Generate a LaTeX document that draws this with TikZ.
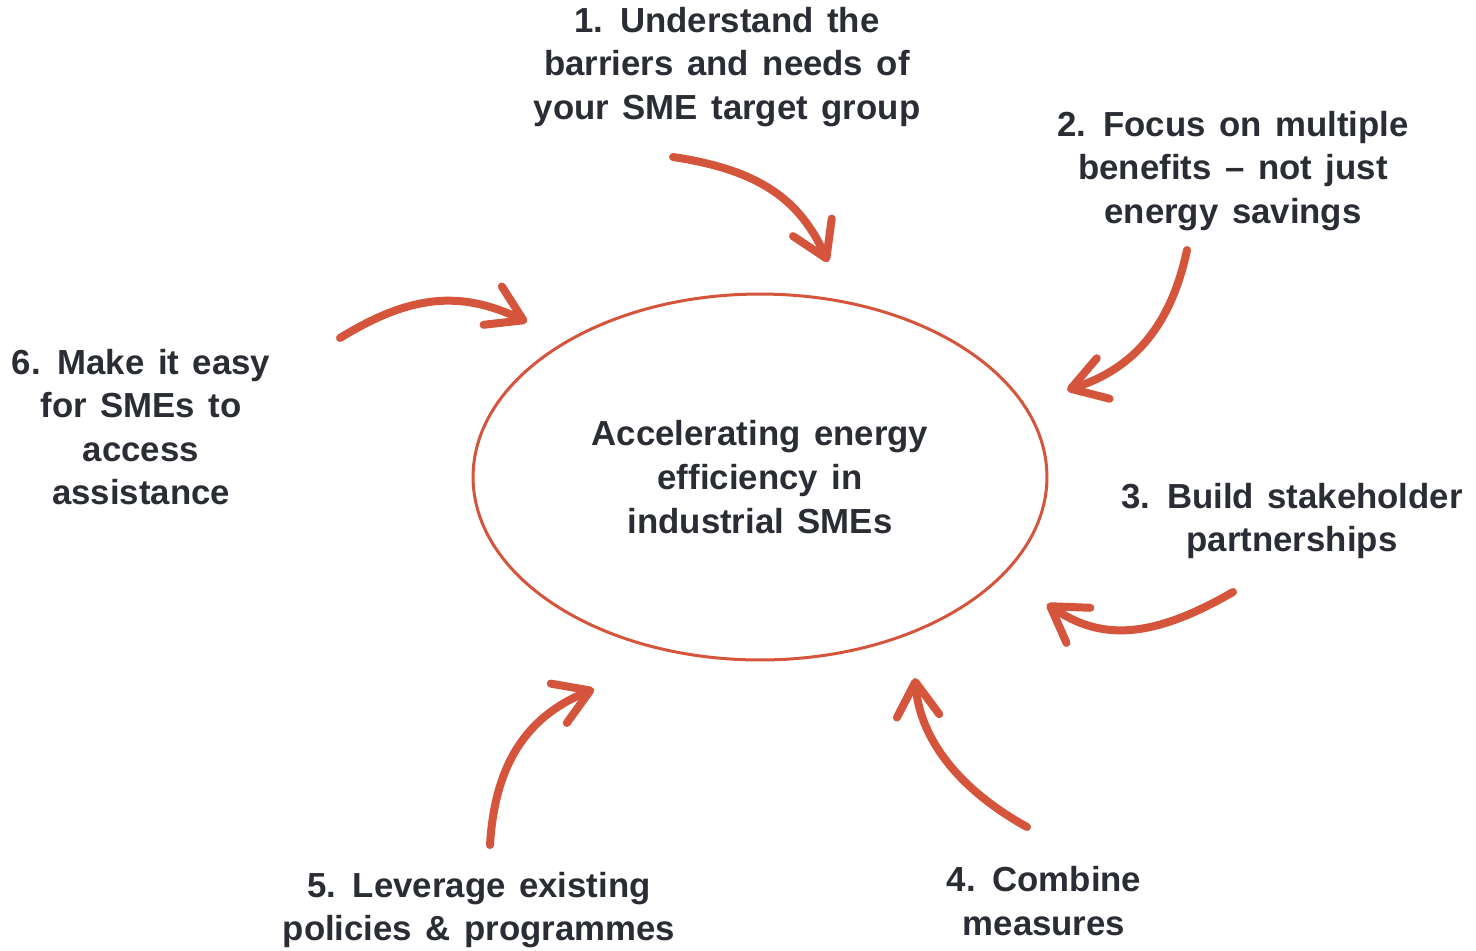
\documentclass[tikz,border=0pt]{standalone}
\usepackage{fontspec}
\setmainfont{Liberation Sans}[WordSpace=1.4]
\usetikzlibrary{
    arrows.meta,
    shapes.geometric
}
\definecolor{brick}{HTML}{D4543C}
\definecolor{ink}{HTML}{2B2D35}
\tikzset{
  point/.style = {
      font=\fontsize{19.8}{24.8}\selectfont\bfseries,
      text=ink,
      align=center,
      inner sep=0pt
  },
  hub/.style = {
      ellipse,
      draw=brick,
      line width=0.06cm,
      minimum width=11.48cm,
      minimum height=7.32cm,
      inner sep=0pt,
      point
  },
  push/.style = {
      draw=brick,
      line width=0.16cm,
      line cap=round,
      -{Straight Barb[length=0.68cm, width=0.85cm, round]}
  }
}

\begin{document}
\begin{tikzpicture}[x=0.02cm, y=-0.02cm]
        \useasboundingbox (0,0) rectangle (1476,950);
        % centre
        \node[hub] (core) at (760,477)
            {Accelerating energy\\efficiency in\\industrial SMEs};
        % the six points
        \node[point] (p1) at (727,67)
            {1. Understand the\\barriers and needs of\\your SME target group};
        \node[point] (p2) at (1233,171)
            {2. Focus on multiple\\benefits -- not just\\energy savings};
        \node[point] (p3) at (1292,521)
            {3. Build stakeholder\\partnerships};
        \node[point] (p4) at (1044,901)
            {4. Combine\\measures};
        \node[point] (p5) at (479,910)
            {5. Leverage existing\\policies \& programmes};
        \node[point] (p6) at (141,427)
            {6. Make it easy\\for SMEs to\\access\\assistance};
        % arrow ends
        \coordinate (s1) at (673,157);
        \coordinate (e1) at (828,262);
        \coordinate (s2) at (1187,250);
        \coordinate (e2) at (1067,390);
        \coordinate (s3) at (1233,592);
        \coordinate (e3) at (1047,604);
        \coordinate (s4) at (1027,827);
        \coordinate (e4) at (915,678);
        \coordinate (s5) at (490,845);
        \coordinate (e5) at (594,689);
        \coordinate (s6) at (340,338);
        \coordinate (e6) at (527,322);
        % Arrows
        \draw[push] (s1) .. controls (760,170) and (800,200) .. (e1);
        \draw[push] (s2) .. controls (1170,330) and (1130,370) .. (e2);
        \draw[push] (s3) .. controls (1150,640) and (1100,640) .. (e3);
        \draw[push] (s4) .. controls (960,790) and (920,740) .. (e4);
        \draw[push] (s5) .. controls (495,760) and (530,715) .. (e5);
        \draw[push] (s6) .. controls (410,295) and (460,290) .. (e6);
    \end{tikzpicture}
\end{document}
